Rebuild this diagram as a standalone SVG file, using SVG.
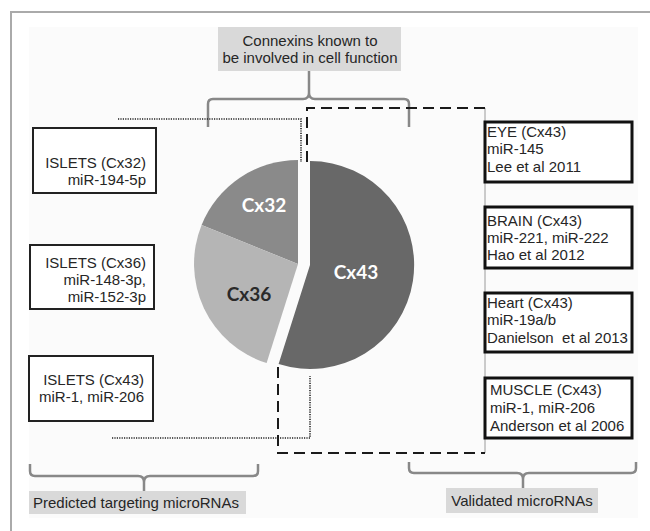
<svg xmlns="http://www.w3.org/2000/svg" width="650" height="531" viewBox="0 0 650 531">
  <style>
    .t { font-family: "Liberation Sans", Arial, sans-serif; font-size: 15px; fill: #262626; }
    .end { text-anchor: end; }
    .mid { text-anchor: middle; }
    .lbox { fill: #fff; stroke: #222; stroke-width: 2; }
    .rbox { fill: #fff; stroke: #111; stroke-width: 3; }
    .tag { fill: #d9d9d9; stroke: none; }
    .brace { fill: none; stroke: #888; stroke-width: 2.5; stroke-linejoin: round; }
    .dot { fill: none; stroke: #222; stroke-width: 1.6; stroke-dasharray: 1.2 1.2; }
    .dash { fill: none; stroke: #1a1a1a; stroke-width: 2; stroke-dasharray: 11 6; }
    .thin { fill: none; stroke: #9a9a9a; stroke-width: 1; }
    .pl { font-family: Lato, "Liberation Sans", sans-serif; font-weight: 700; font-size: 19px; text-anchor: middle; }
  </style>

  <!-- frame and background -->
  <path d="M11,531 V12 H650" fill="none" stroke="#aaa" stroke-width="2"/>
  <rect x="29" y="27" width="609" height="491" fill="#fbfbfb"/>

  <!-- pie chart -->
  <g id="pie">
    <path id="cx32" d="M298,264 L298,160 A104,104 0 0 0 201.6,225 Z" fill="#8a8a8a"/>
    <path id="cx36" d="M298,264 L201.6,225 A104,104 0 0 0 266.6,363.1 Z" fill="#b5b5b5"/>
    <path id="cx43" d="M310,265 L310,161 A104,104 0 1 1 278.6,364.1 Z" fill="#686868"/>
    <text class="pl" x="264" y="212" fill="#fff">Cx32</text>
    <text class="pl" x="249" y="301" fill="#2a2a2a">Cx36</text>
    <text class="pl" x="356" y="279" fill="#fff">Cx43</text>
  </g>

  <!-- connectors -->
  <g id="connectors">
    <path class="brace" d="M208,127 V104 Q208,99 213,99 H303 Q309,99 309,93 V71 M309,93 Q309,99 315,99 H404 Q409,99 409,104 V127"/>
    <path class="brace" d="M30,464 V471 Q30,476 35,476 H138 Q144,476 144,482 V491 M144,482 Q144,476 150,476 H253 Q258,476 258,471 V464"/>
    <path class="brace" d="M409,462 V468 Q409,473 414,473 H517 Q523,473 523,479 V488 M523,479 Q523,473 529,473 H631 Q636,473 636,468 V462"/>
    <path class="dot" d="M118,119 H301 V162"/>
    <path class="dot" d="M112,438 H310 V376"/>
    <path class="thin" d="M485,108 V453"/>
    <path class="dash" d="M307,162 V108 H485"/>
    <path class="dash" d="M278,367 V453 H485"/>
  </g>

  <!-- header tag -->
  <g id="tag-connexins">
    <rect class="tag" x="218" y="27" width="183" height="44"/>
    <text class="t mid" x="310" y="46">Connexins known to</text>
    <text class="t mid" x="310" y="63">be involved in cell function</text>
  </g>

  <!-- left boxes -->
  <g id="islets-cx32">
    <rect class="lbox" x="33" y="128" width="123" height="65"/>
    <text class="t end" x="146" y="168">ISLETS (Cx32)</text>
    <text class="t end" x="146" y="185">miR-194-5p</text>
  </g>
  <g id="islets-cx36">
    <rect class="lbox" x="30" y="245" width="124" height="64"/>
    <text class="t end" x="146" y="268">ISLETS (Cx36)</text>
    <text class="t end" x="146" y="285">miR-148-3p,</text>
    <text class="t end" x="146" y="302">miR-152-3p</text>
  </g>
  <g id="islets-cx43">
    <rect class="lbox" x="29" y="356" width="124" height="65"/>
    <text class="t end" x="144" y="385">ISLETS (Cx43)</text>
    <text class="t end" x="144" y="402">miR-1, miR-206</text>
  </g>

  <!-- right boxes -->
  <g id="eye">
    <rect class="rbox" x="485" y="122" width="147" height="60"/>
    <text class="t" x="487" y="137">EYE (Cx43)</text>
    <text class="t" x="487" y="154">miR-145</text>
    <text class="t" x="487" y="172">Lee et al 2011</text>
  </g>
  <g id="brain">
    <rect class="rbox" x="485" y="207" width="147" height="61"/>
    <text class="t" x="487" y="226">BRAIN (Cx43)</text>
    <text class="t" x="487" y="243">miR-221, miR-222</text>
    <text class="t" x="487" y="260">Hao et al 2012</text>
  </g>
  <g id="heart">
    <rect class="rbox" x="485" y="293" width="147" height="59"/>
    <text class="t" x="487" y="308">Heart (Cx43)</text>
    <text class="t" x="487" y="325">miR-19a/b</text>
    <text class="t" x="487" y="343" xml:space="preserve">Danielson  et al 2013</text>
  </g>
  <g id="muscle">
    <rect class="rbox" x="485" y="378" width="147" height="60"/>
    <text class="t" x="490" y="395">MUSCLE (Cx43)</text>
    <text class="t" x="490" y="413">miR-1, miR-206</text>
    <text class="t" x="490" y="431">Anderson et al 2006</text>
  </g>

  <!-- bottom tags -->
  <g id="tag-predicted">
    <rect class="tag" x="29" y="491" width="217" height="23"/>
    <text class="t" x="33" y="508">Predicted targeting microRNAs</text>
  </g>
  <g id="tag-validated">
    <rect class="tag" x="446" y="488" width="152" height="25"/>
    <text class="t mid" x="522" y="506">Validated microRNAs</text>
  </g>
</svg>
